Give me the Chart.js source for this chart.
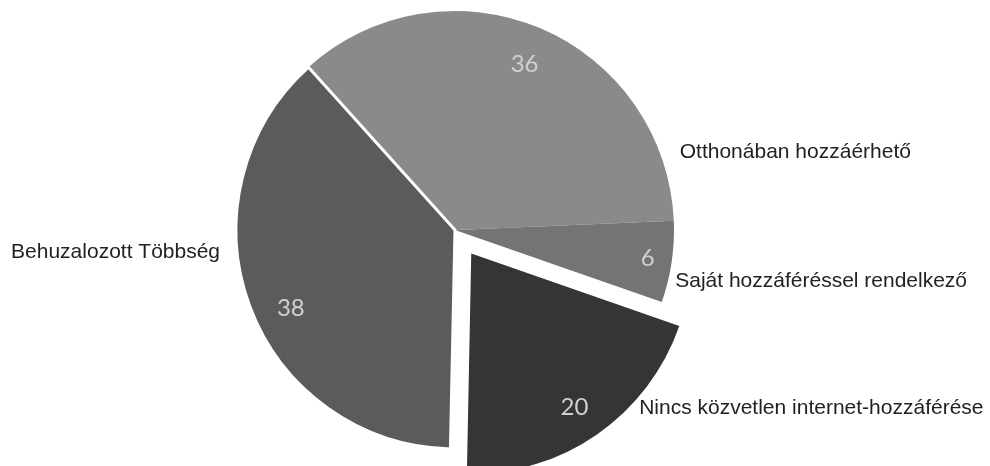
<!DOCTYPE html>
<html>
<head>
<meta charset="utf-8">
<script src="https://cdn.jsdelivr.net/npm/chart.js@4"></script>
<style>
html, body { margin: 0; padding: 0; background: #fff; }
#wrap { width: 990px; height: 466px; position: relative; }
</style>
</head>
<body>
<div id="wrap"><canvas id="pieChart"></canvas></div>
<script>
// Chart Data
const categories = ['Otthonában hozzáérhető', 'Saját hozzáféréssel rendelkező', 'Nincs közvetlen internet-hozzáférése', 'Behuzalozott Többség'];
const shares = [36, 6, 20, 38];

// Styling
const sliceColors = ['#8a8a8c', '#747476', '#353535', '#5b5b5d'];
const explode = [0, 0, 114, 0];
const valueRadius = [0.82, 0.89, 0.84, 0.83];
const valueTurn = [0, 0, 1, -5];
const nameAngle = [-19.2, 13.0, 42.6, 174.6];
const nameGap = [19, 7, 8, 17];

// Labels drawn next to and inside the slices
const sliceLabels = {
    id: 'sliceLabels',
    afterDatasetsDraw(chart) {
        const ctx = chart.ctx;
        const meta = chart.getDatasetMeta(0);
        meta.data.forEach((arc, i) => {
            const p = arc.getProps(['x', 'y', 'startAngle', 'endAngle', 'outerRadius', 'circumference'], true);
            const mid = (p.startAngle + p.endAngle) / 2;
            // same shift the arc uses when it is pulled out
            const off = (arc.options.offset || 0) / 4;
            const fix = 1 - Math.sin(Math.min(Math.PI, p.circumference));
            const shift = off * (1 + fix);
            const cx = p.x + Math.cos(mid) * shift;
            const cy = p.y + Math.sin(mid) * shift;

            ctx.save();
            ctx.textBaseline = 'middle';

            const va = mid + valueTurn[i] * Math.PI / 180;
            const vr = p.outerRadius * valueRadius[i];
            ctx.font = '24px Lato, "Open Sans", sans-serif';
            ctx.fillStyle = '#d0d0d0';
            ctx.textAlign = 'center';
            ctx.fillText(String(shares[i]), cx + Math.cos(va) * vr, cy + Math.sin(va) * vr);

            const a = nameAngle[i] * Math.PI / 180;
            const d = p.outerRadius + nameGap[i];
            ctx.font = '21px "Liberation Sans", Arial, sans-serif';
            ctx.fillStyle = '#222';
            ctx.textAlign = Math.cos(a) >= 0 ? 'left' : 'right';
            ctx.fillText(categories[i], cx + Math.cos(a) * d, cy + Math.sin(a) * d);
            ctx.restore();
        });
    }
};

new Chart(document.getElementById('pieChart'), {
    type: 'pie',
    data: {
        labels: categories,
        datasets: [{
            data: shares,
            backgroundColor: sliceColors,
            borderColor: '#ffffff',
            borderWidth: [0, 0, 0, 3],
            offset: explode
        }]
    },
    options: {
        responsive: true,
        maintainAspectRatio: false,
        animation: false,
        rotation: -42,
        radius: 219,
        layout: { padding: { left: 0, right: 80, top: 2, bottom: 8 } },
        plugins: {
            legend: { display: false },
            tooltip: { enabled: false }
        }
    },
    plugins: [sliceLabels]
});
</script>
</body>
</html>
